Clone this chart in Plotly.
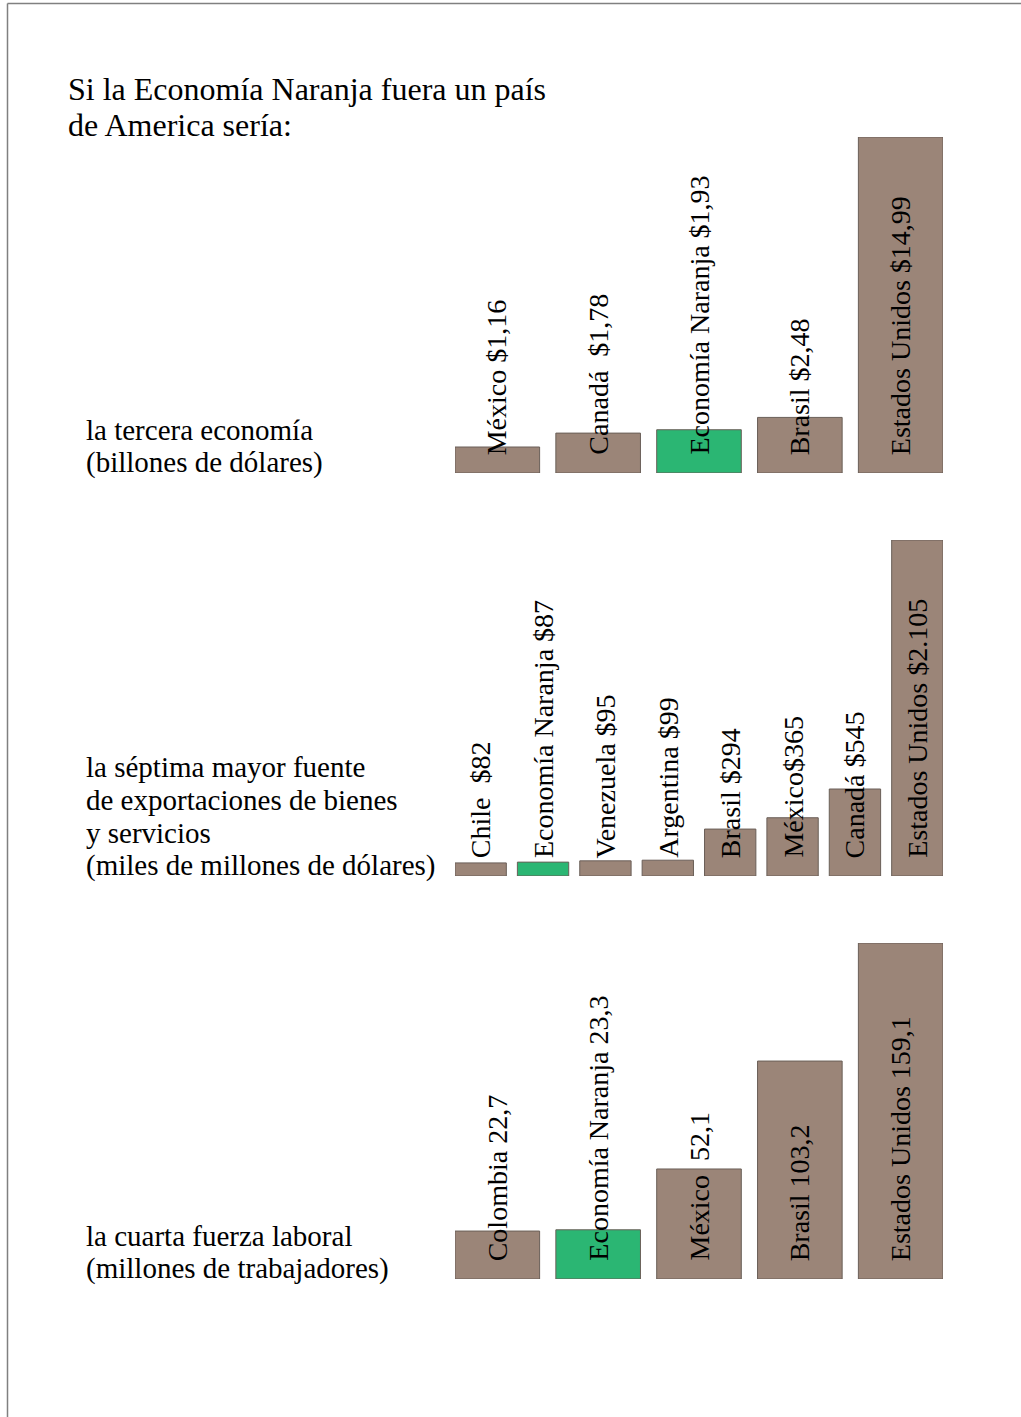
import plotly.graph_objects as go

W, H = 1021, 1417

# ---------------- data ----------------
title_lines = ["Si la Economía Naranja fuera un país", "de America sería:"]
highlight = "Economía Naranja"

p1_names = ["México", "Canadá", "Economía Naranja", "Brasil", "Estados Unidos"]
p1_values = [1.16, 1.78, 1.93, 2.48, 14.99]
p1_labels = ["México $1,16", "Canadá\u00a0 $1,78", "Economía Naranja $1,93",
             "Brasil $2,48", "Estados Unidos $14,99"]
p1_caption = ["la tercera economía", "(billones de dólares)"]

p2_names = ["Chile", "Economía Naranja", "Venezuela", "Argentina", "Brasil",
            "México", "Canadá", "Estados Unidos"]
p2_values = [82, 87, 95, 99, 294, 365, 545, 2105]
p2_labels = ["Chile\u00a0 $82", "Economía Naranja $87", "Venezuela $95", "Argentina $99",
             "Brasil $294", "México$365", "Canadá $545", "Estados Unidos $2.105"]
p2_caption = ["la séptima mayor fuente", "de exportaciones de bienes",
              "y servicios", "(miles de millones de dólares)"]

p3_names = ["Colombia", "Economía Naranja", "México", "Brasil", "Estados Unidos"]
p3_values = [22.7, 23.3, 52.1, 103.2, 159.1]
p3_labels = ["Colombia 22,7", "Economía Naranja 23,3", "México\u00a0 52,1",
             "Brasil 103,2", "Estados Unidos 159,1"]
p3_caption = ["la cuarta fuerza laboral", "(millones de trabajadores)"]

# ---------------- style / layout ----------------
FONT = "Liberation Serif"
BROWN = "#9b8578"
GREEN = "#2bb673"
EDGE = "#6a5f58"

panels = [
    dict(names=p1_names, values=p1_values, labels=p1_labels, caption=p1_caption,
         base=473, top=137, wfrac=0.839),
    dict(names=p2_names, values=p2_values, labels=p2_labels, caption=p2_caption,
         base=876, top=540, wfrac=0.823),
    dict(names=p3_names, values=p3_values, labels=p3_labels, caption=p3_caption,
         base=1279, top=943, wfrac=0.839),
]

X0, X1 = 455, 943


def px_x(p):
    return p / W


def px_y(p):
    return 1 - p / H


fig = go.Figure()
annotations = []
layout_axes = {}

for i, pn in enumerate(panels, start=1):
    sfx = "" if i == 1 else str(i)
    n = len(pn["names"])
    w = pn["wfrac"]
    colors = [GREEN if nm == highlight else BROWN for nm in pn["names"]]
    fig.add_trace(go.Bar(
        x=pn["names"], y=pn["values"], width=w,
        marker=dict(color=colors, line=dict(color=EDGE, width=1)),
        xaxis="x" + sfx, yaxis="y" + sfx, showlegend=False, hoverinfo="skip",
    ))
    layout_axes["xaxis" + sfx] = dict(
        domain=[px_x(X0), px_x(X1)], range=[-w / 2, n - 1 + w / 2],
        type="category", anchor="y" + sfx, visible=False, fixedrange=True,
    )
    layout_axes["yaxis" + sfx] = dict(
        domain=[px_y(pn["base"]), px_y(pn["top"])], range=[0, max(pn["values"])],
        anchor="x" + sfx, visible=False, fixedrange=True,
    )
    # rotated bar labels
    for nm, lab in zip(pn["names"], pn["labels"]):
        annotations.append(dict(
            x=nm, y=0, xref="x" + sfx, yref="y" + sfx, text=lab, textangle=-90,
            xanchor="center", yanchor="bottom", yshift=17, showarrow=False,
            borderpad=0, font=dict(family=FONT, size=28, color="black"),
        ))
    # left captions (bottom line baseline at the bar base)
    nl = len(pn["caption"])
    for k, line in enumerate(pn["caption"]):
        baseline = pn["base"] - (nl - 1 - k) * 33
        annotations.append(dict(
            x=px_x(85), y=px_y(baseline + 7), xref="paper", yref="paper",
            text=line, xanchor="left", yanchor="bottom", showarrow=False,
            borderpad=0, font=dict(family=FONT, size=29, color="black"),
        ))

# title
for k, line in enumerate(title_lines):
    baseline = 101 + k * 36
    annotations.append(dict(
        x=px_x(67), y=px_y(baseline + 7), xref="paper", yref="paper",
        text=line, xanchor="left", yanchor="bottom", showarrow=False,
        borderpad=0, font=dict(family=FONT, size=32, color="black"),
    ))

shapes = [
    dict(type="line", xref="paper", yref="paper", x0=px_x(7.5), x1=1,
         y0=px_y(3.5), y1=px_y(3.5), line=dict(color="#808080", width=1.5)),
    dict(type="line", xref="paper", yref="paper", x0=px_x(7.5), x1=px_x(7.5),
         y0=px_y(3.5), y1=0, line=dict(color="#808080", width=1.5)),
]

fig.update_layout(
    width=W, height=H, margin=dict(l=0, r=0, t=0, b=0),
    paper_bgcolor="white", plot_bgcolor="rgba(0,0,0,0)",
    annotations=annotations, shapes=shapes, **layout_axes,
)

fig.write_html(
    "out.html",
    config={"displayModeBar": False},
    post_script="document.body.style.margin='0';document.body.style.overflow='hidden';",
)
